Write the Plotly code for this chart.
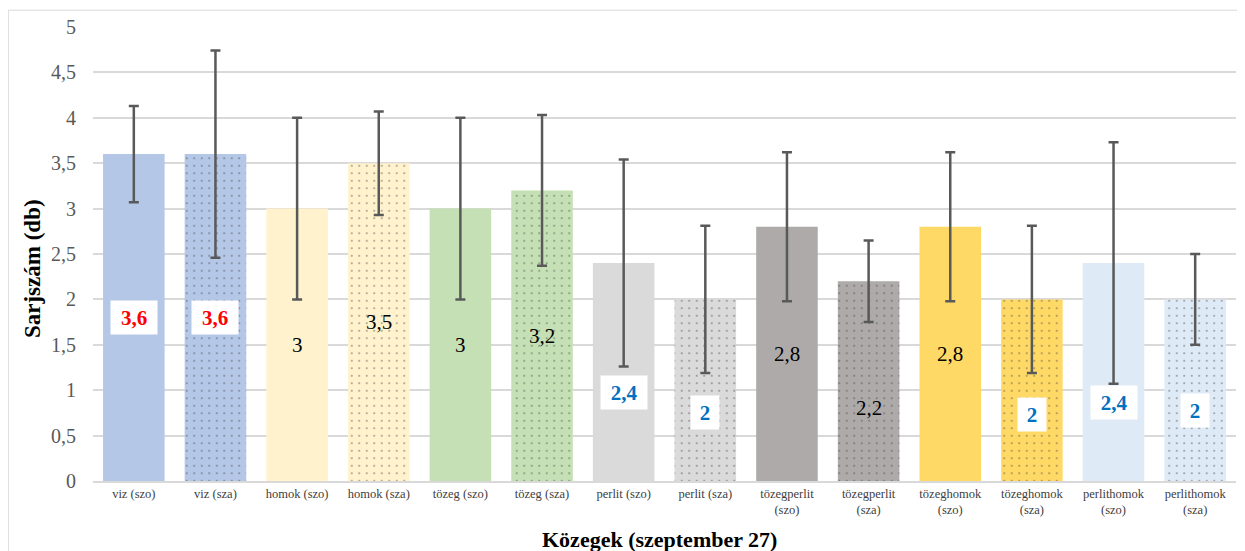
import plotly.graph_objects as go

categories = ["viz (szo)", "viz (sza)", "homok (szo)", "homok (sza)", "tözeg (szo)", "tözeg (sza)",
              "perlit (szo)", "perlit (sza)", "tözegperlit<br>(szo)", "tözegperlit<br>(sza)",
              "tözeghomok<br>(szo)", "tözeghomok<br>(sza)", "perlithomok<br>(szo)", "perlithomok<br>(sza)"]
values = [3.6, 3.6, 3.0, 3.5, 3.0, 3.2, 2.4, 2.0, 2.8, 2.2, 2.8, 2.0, 2.4, 2.0]
errors = [0.53, 1.14, 1.0, 0.57, 1.0, 0.83, 1.14, 0.81, 0.82, 0.45, 0.82, 0.81, 1.33, 0.5]
label_texts = ["3,6", "3,6", "3", "3,5", "3", "3,2", "2,4", "2", "2,8", "2,2", "2,8", "2", "2,4", "2"]
label_y = [1.8, 1.8, 1.5, 1.75, 1.5, 1.6, 0.98, 0.75, 1.4, 0.8, 1.4, 0.73, 0.87, 0.78]
label_style = ["red", "red", "plain", "plain", "plain", "plain", "blue", "blue",
               "plain", "plain", "plain", "blue", "blue", "blue"]
bar_colors = ["#B4C7E7", "#B4C7E7", "#FFF2CC", "#FFF2CC", "#C5E0B4", "#C5E0B4",
              "#DADADA", "#DADADA", "#AEAAAA", "#AEAAAA", "#FFD966", "#FFD966",
              "#DEEBF7", "#DEEBF7"]
patterns = ["", ".", "", ".", "", ".", "", ".", "", ".", "", ".", "", "."]
y_ticks = [0, 0.5, 1, 1.5, 2, 2.5, 3, 3.5, 4, 4.5, 5]
y_tick_text = ["0", "0,5", "1", "1,5", "2", "2,5", "3", "3,5", "4", "4,5", "5"]

SERIF = "Liberation Serif"

fig = go.Figure()
fig.add_trace(go.Bar(
    x=categories, y=values,
    marker=dict(
        color=bar_colors,
        line=dict(width=0),
        pattern=dict(shape=patterns, fgcolor="#3A6BD8", size=7.5, solidity=0.06,
                     fillmode="overlay"),
    ),
    error_y=dict(type="data", array=errors, visible=True, color="#595959",
                 thickness=2.5, width=5),
    hoverinfo="skip",
))

for cat, txt, ly, st in zip(categories, label_texts, label_y, label_style):
    if st == "plain":
        fig.add_annotation(x=cat, y=ly, text=txt, showarrow=False,
                           xanchor="center", yanchor="middle",
                           font=dict(family=SERIF, size=21, color="#000000"))
    else:
        col = "#FF0000" if st == "red" else "#0070C0"
        fig.add_annotation(x=cat, y=ly, text="<b>" + txt + "</b>", showarrow=False,
                           xanchor="center", yanchor="middle",
                           font=dict(family=SERIF, size=21, color=col),
                           bgcolor="#FFFFFF", width=17 + 9 * len(txt), height=31)

# axis titles
fig.add_annotation(xref="paper", yref="paper", x=-0.0534, y=0.469, text="<b>Sarjszám (db)</b>",
                   textangle=-90, showarrow=False, xanchor="center", yanchor="middle",
                   font=dict(family=SERIF, size=23, color="#000000"))
fig.add_annotation(xref="paper", yref="paper", x=0.496, y=-0.128, text="<b>Közegek (szeptember 27)</b>",
                   showarrow=False, xanchor="center", yanchor="middle",
                   font=dict(family=SERIF, size=22, color="#000000"))

# chart border
fig.add_shape(type="rect", xref="paper", yref="paper", x0=-0.0741, x1=1.0035, y0=-0.3, y1=1.037,
              line=dict(color="#D9D9D9", width=1), layer="below")

fig.update_layout(
    width=1237, height=543,
    margin=dict(l=85, r=9, t=19, b=70),
    plot_bgcolor="#FFFFFF", paper_bgcolor="#FFFFFF",
    bargap=0.246,
    showlegend=False,
    xaxis=dict(tickfont=dict(family=SERIF, size=12.5, color="#404040"),
               showline=True, linecolor="#D9D9D9", linewidth=1.5,
               ticks="", showgrid=False, tickangle=0),
    yaxis=dict(range=[0, 5], tickvals=y_ticks, ticktext=y_tick_text,
               tickfont=dict(family=SERIF, size=20, color="#595959"),
               showgrid=True, gridcolor="#D9D9D9", gridwidth=1.5,
               zeroline=False, showline=False,
               ticks="outside", ticklen=12, tickcolor="rgba(0,0,0,0)"),
)

fig.write_html("out.html")
